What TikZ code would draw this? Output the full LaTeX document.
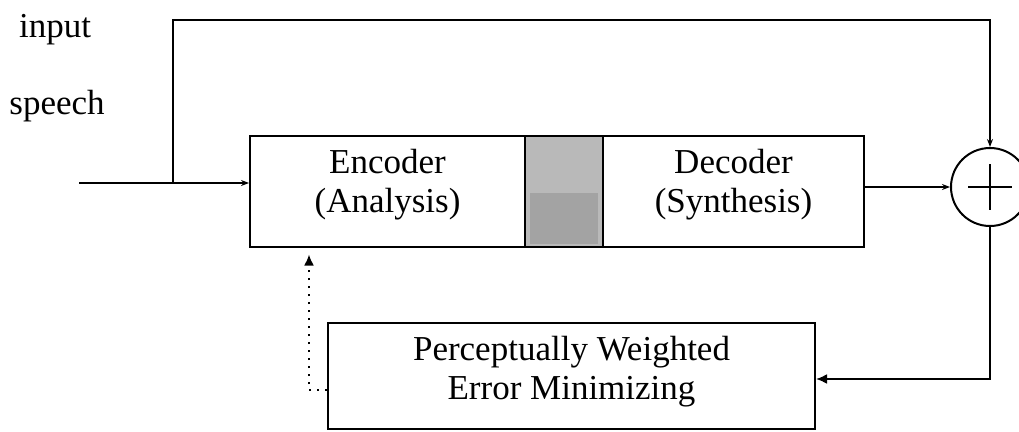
\documentclass[tikz,border=0pt]{standalone}
\usepackage{fontspec}
\setmainfont{Liberation Serif}
\usetikzlibrary{arrows.meta,calc,positioning}
\tikzset{
  blk/.style={draw,line width=2pt,minimum height=111pt,align=center,
    inner sep=0pt,font=\fontsize{35}{39}\selectfont},
  wire/.style={line width=2pt},
  smallarr/.style={-{Stealth[length=8pt,width=6pt]}},
  bigarr/.style={-{Latex[length=11pt,width=10pt]}}
}

\begin{document}
\begin{tikzpicture}[x=1pt,y=-1pt]
\useasboundingbox (0,0) rectangle (1019,431);

% coder blocks
\node[blk,minimum width=275pt,text depth=20pt] (enc) at (387.5,191) {Encoder\\(Analysis)};
\node[blk,minimum width=78pt,fill=gray!55,
  path picture={\fill[gray!72] ([xshift=5pt,yshift=3pt]path picture bounding box.south west)
    rectangle ([xshift=-5pt,yshift=-2pt]path picture bounding box.east);}]
  (chan) at (564,191) {};
\node[blk,minimum width=261pt,text depth=20pt] (dec) at (733.5,191) {Decoder\\(Synthesis)};

% sum and error block
\node[draw,circle,line width=2pt,minimum size=78pt,inner sep=0pt,
  path picture={\draw[line width=2pt] ($(path picture bounding box.center)+(-22,0)$) -- ++(44,0)
    ($(path picture bounding box.center)+(0,-23)$) -- ++(0,46);}]
  (sum) at (990,187) {};
\node[blk,minimum width=487pt,minimum height=106pt,text depth=16pt] (err) at (571.5,376)
  {Perceptually Weighted\\Error Minimizing};

% labels
\node[font=\fontsize{35}{39}\selectfont] (lblin) at (55,30) {input};
\node[font=\fontsize{35}{39}\selectfont] (lblsp) at (57,106) {speech};

\coordinate (in) at (79,183);
\coordinate (br) at (173,183);

% connectors
\draw[wire,smallarr] (in) -- (in -| enc.west);
\draw[wire,smallarr] (br) -- ++(0,-163) -| (sum.north);
\draw[wire,smallarr] (dec.east |- sum) -- (sum.west);
\draw[wire,bigarr] (sum.south) |- ([yshift=-3pt]err.east);
\draw[wire,dash pattern=on 2pt off 6pt,bigarr]
  ([yshift=-14pt]err.west) -- ++(-18,0) coordinate (dl) -- ([yshift=-7pt]dl |- enc.south);

\end{tikzpicture}
\end{document}
